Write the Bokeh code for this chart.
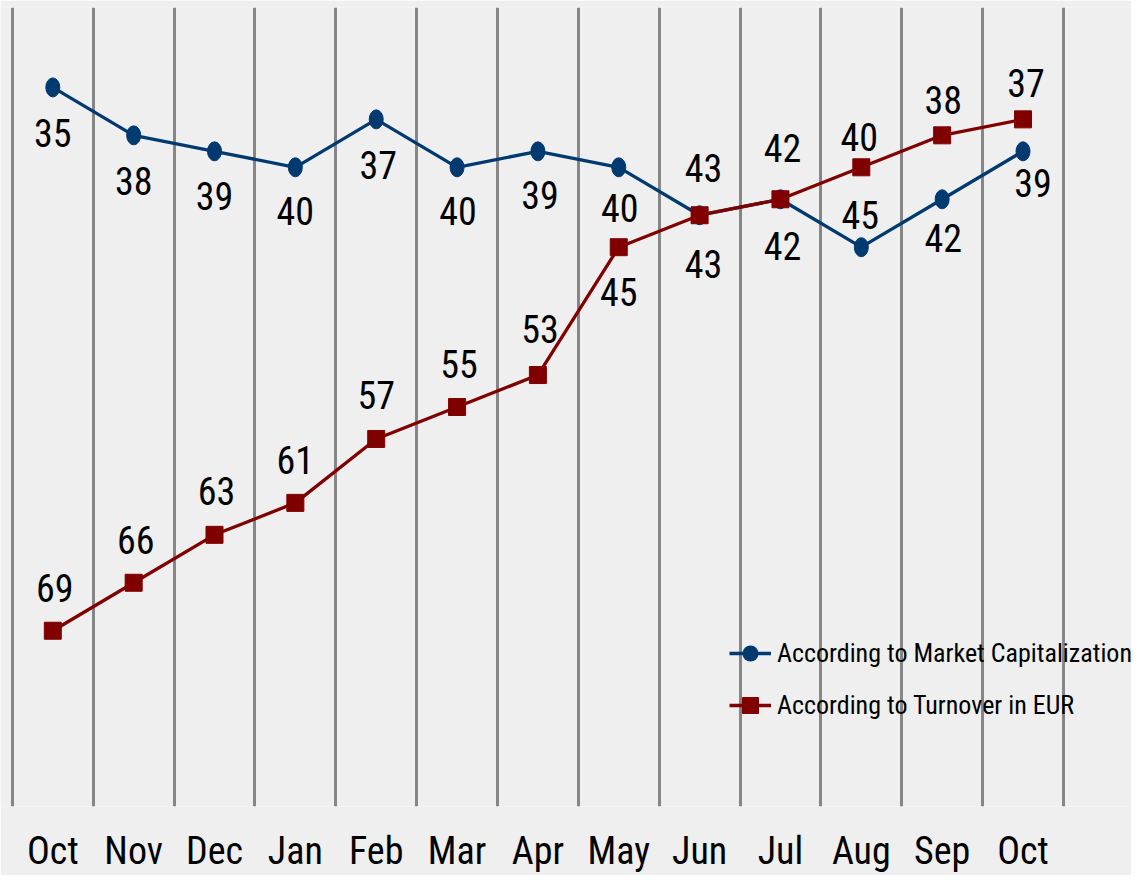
from bokeh.plotting import figure
from bokeh.models import Range1d, FixedTicker, Legend, LegendItem, ColumnDataSource
from bokeh.core.properties import value
from bokeh.embed import file_html
from bokeh.resources import INLINE

# ---- data ----
months = ["Oct", "Nov", "Dec", "Jan", "Feb", "Mar", "Apr", "May", "Jun", "Jul", "Aug", "Sep", "Oct"]
market_cap = [35, 38, 39, 40, 37, 40, 39, 40, 43, 42, 45, 42, 39]
turnover = [69, 66, 63, 61, 57, 55, 53, 45, 43, 42, 40, 38, 37]
series_names = ["According to Market Capitalization", "According to Turnover in EUR"]

# ---- label placement (style, screen px) ----
blue_dx = [0, 0, 0, 0, 2, 1, 2, 1, 4, 2, -1, 1, 10]
blue_dy = [46, 46, 45, 44, 46, 44, 44, 41, -47, -51, -32, 39, 32]
red_dx = [2, 2, 2, 0, 0, 2, 2, 0, 4, 2, -2, 1, 3]
red_dy = [-43, -43, -44, -43, -44, -43, -46, 45, 49, 47, -30, -35, -36]

FONT = "Roboto Condensed"
BG = "#efefef"
BLUE = "#003a70"
RED = "#800000"

xs = list(range(len(months)))

p = figure(width=1131, height=875, output_backend="svg", toolbar_location=None,
           x_range=Range1d(-0.647, 13.342), y_range=Range1d(80, 30),
           y_axis_location=None, min_border=0, min_border_top=7,
           background_fill_color=BG, border_fill_color=BG, outline_line_color=None)

p.ygrid.visible = False
p.xgrid.ticker = FixedTicker(ticks=[i - 0.5 for i in range(len(months) + 1)])
p.xgrid.grid_line_color = "#868686"
p.xgrid.grid_line_width = 3

ax = p.xaxis[0]
ax.ticker = FixedTicker(ticks=xs)
ax.major_label_overrides = {i: m for i, m in enumerate(months)}
ax.axis_line_color = None
ax.major_tick_line_color = None
ax.minor_tick_line_color = None
ax.major_label_text_font = FONT
ax.major_label_text_font_size = "38px"
ax.major_label_text_color = "black"
ax.major_label_standoff = 16

src_b = ColumnDataSource(dict(x=xs, y=market_cap, t=[str(v) for v in market_cap], dx=blue_dx, dy=blue_dy))
src_r = ColumnDataSource(dict(x=xs, y=turnover, t=[str(v) for v in turnover], dx=red_dx, dy=red_dy))

lb = p.line("x", "y", source=src_b, line_color=BLUE, line_width=3.3)
mb = p.ellipse(x="x", y="y", source=src_b, width=14, height=19, width_units="screen",
               height_units="screen", fill_color=BLUE, line_color=BLUE)
# legend-only circle (size 0 on the plot; the legend sizes it from its glyph box)
kb = p.scatter("x", "y", source=src_b, marker="circle", size=0, fill_color=BLUE, line_color=None)
lr = p.line("x", "y", source=src_r, line_color=RED, line_width=3.3)
mr = p.scatter("x", "y", source=src_r, marker="square", size=17, fill_color=RED, line_color=RED)

for src in (src_b, src_r):
    p.text(x="x", y="y", text="t", source=src, x_offset="dx", y_offset="dy",
           text_font=value(FONT), text_font_size="38px", text_color="black",
           text_align="center", text_baseline="middle")

legend = Legend(items=[LegendItem(label=series_names[0], renderers=[lb, kb]),
                       LegendItem(label=series_names[1], renderers=[lr, mr])],
                location=(729, 81), border_line_color=None, background_fill_alpha=0,
                glyph_width=42, glyph_height=40, label_standoff=6,
                label_text_font=FONT, label_text_font_size="26px", label_text_color="black",
                spacing=12, padding=0, margin=0)
p.add_layout(legend)

open("out.html", "w").write(file_html(p, INLINE))
